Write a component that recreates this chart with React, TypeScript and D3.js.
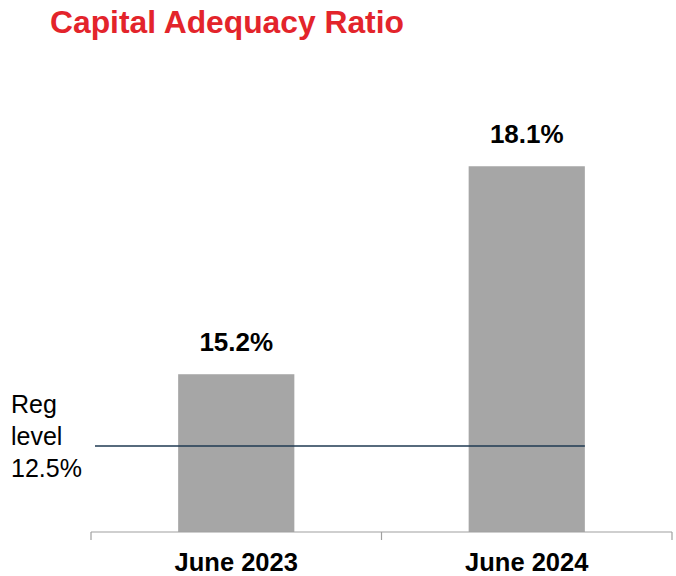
import React from "react";
import * as d3 from "d3";

const categories = ["June 2023", "June 2024"];
const values = [15.2, 18.1];
const valueLabels = ["15.2%", "18.1%"];
const regLevel = 12.5;
const regLabelLines = ["Reg", "level", "12.5%"];
const title = "Capital Adequacy Ratio";

const W = 676;
const H = 576;
const FONT = "'Liberation Sans', Arial, sans-serif";

export default function App() {
  const left = 91;
  const right = 672;
  const bottom = 532;

  const x = d3
    .scaleBand<string>()
    .domain(categories)
    .range([left, right])
    .paddingInner(0.6)
    .paddingOuter(0.3);

  const y = d3.scaleLinear().domain([13, 20]).range([bottom, 30]);
  // secondary scale for the regulatory level line
  const yReg = d3.scaleLinear().domain([0, 25]).range([bottom, bottom - 172]);

  const step = x.step();
  const tickXs = [left, left + step, right];
  const lastBar = categories[categories.length - 1];
  const regY = yReg(regLevel);

  return (
    <div style={{ position: "absolute", left: 0, top: 0 }}>
      <svg width={W} height={H} style={{ display: "block" }}>
        <rect width={W} height={H} fill="#ffffff" />
        <text x={50} y={33} fontFamily={FONT} fontWeight="bold" fontSize={31.8} fill="#E3242B">
          {title}
        </text>

        {categories.map((c, i) => (
          <g key={c}>
            <rect
              x={x(c)!}
              y={y(values[i])}
              width={x.bandwidth()}
              height={bottom - y(values[i])}
              fill="#A6A6A6"
            />
            <text
              x={x(c)! + x.bandwidth() / 2}
              y={y(values[i]) - 23}
              textAnchor="middle"
              fontFamily={FONT}
              fontWeight="bold"
              fontSize={26}
              fill="#000"
            >
              {valueLabels[i]}
            </text>
            <text
              x={x(c)! + x.bandwidth() / 2}
              y={571}
              textAnchor="middle"
              fontFamily={FONT}
              fontWeight="bold"
              fontSize={25.5}
              fill="#000"
            >
              {c}
            </text>
          </g>
        ))}

        <line x1={left} x2={right} y1={bottom} y2={bottom} stroke="#A0A0A0" strokeWidth={1.2} />
        {tickXs.map((tx, i) => (
          <line key={i} x1={tx} x2={tx} y1={bottom} y2={bottom + 8} stroke="#A0A0A0" strokeWidth={1.2} />
        ))}

        <line
          x1={95}
          x2={x(lastBar)! + x.bandwidth()}
          y1={regY}
          y2={regY}
          stroke="#1F3A52"
          strokeWidth={1.4}
        />

        {regLabelLines.map((t, i) => (
          <text key={i} x={11} y={413 + i * 32} fontFamily={FONT} fontSize={25} fill="#000">
            {t}
          </text>
        ))}
      </svg>
    </div>
  );
}
